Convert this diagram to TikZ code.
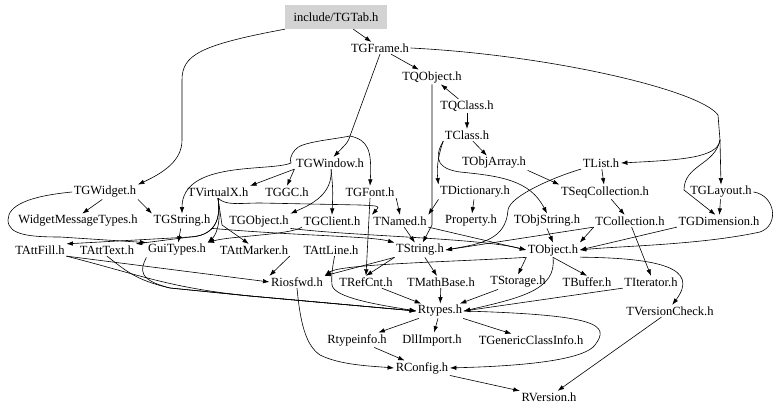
\documentclass[tikz,border=0pt]{standalone}
\usepackage{fontspec}
\setmainfont{Liberation Serif}
\usetikzlibrary{arrows.meta}
\begin{document}
\begin{tikzpicture}[x=1pt,y=-1pt,
  lbl/.style={font=\fontsize{12.5}{14}\selectfont, inner sep=1.5pt},
  arr/.style={-{Latex[length=6.5pt,width=4.5pt]}, line width=0.6pt, black}]
\useasboundingbox (0,0) rectangle (779,414);
% nodes
\node[lbl, fill={rgb,255:red,211;green,211;blue,211}, minimum width=102pt, minimum height=24pt] (tgtab) at (336,17) {include/TGTab.h};
\node[lbl] (tgframe) at (380,48) {TGFrame.h};
\node[lbl] (tqobject) at (432,77) {TQObject.h};
\node[lbl] (tqclass) at (467,106) {TQClass.h};
\node[lbl] (tclass) at (467,135) {TClass.h};
\node[lbl] (tgwindow) at (330,163) {TGWindow.h};
\node[lbl] (tobjarray) at (494,163) {TObjArray.h};
\node[lbl] (tlist) at (601,163) {TList.h};
\node[lbl] (tgwidget) at (105,192) {TGWidget.h};
\node[lbl] (tvirtualx) at (218,192) {TVirtualX.h};
\node[lbl] (tggc) at (287,192) {TGGC.h};
\node[lbl] (tgfont) at (370,192) {TGFont.h};
\node[lbl] (tdictionary) at (475,192) {TDictionary.h};
\node[lbl] (tseqcollection) at (605,192) {TSeqCollection.h};
\node[lbl] (tglayout) at (721,192) {TGLayout.h};
\node[lbl] (widgetmessagetypes) at (78,221) {WidgetMessageTypes.h};
\node[lbl] (tgstring) at (182,221) {TGString.h};
\node[lbl] (tgobject) at (259,221) {TGObject.h};
\node[lbl] (tgclient) at (332,221) {TGClient.h};
\node[lbl] (tnamed) at (400,221) {TNamed.h};
\node[lbl] (property) at (471,221) {Property.h};
\node[lbl] (tobjstring) at (547,221) {TObjString.h};
\node[lbl] (tcollection) at (630,221) {TCollection.h};
\node[lbl] (tgdimension) at (719,221) {TGDimension.h};
\node[lbl] (tattfill) at (40,250) {TAttFill.h};
\node[lbl] (tatttext) at (107,250) {TAttText.h};
\node[lbl] (guitypes) at (177,250) {GuiTypes.h};
\node[lbl] (tattmarker) at (254,250) {TAttMarker.h};
\node[lbl] (tattline) at (331,250) {TAttLine.h};
\node[lbl] (tstring) at (420,250) {TString.h};
\node[lbl] (tobject) at (553,250) {TObject.h};
\node[lbl] (riosfwd) at (297,282) {Riosfwd.h};
\node[lbl] (trefcnt) at (366,282) {TRefCnt.h};
\node[lbl] (tmathbase) at (441,282) {TMathBase.h};
\node[lbl] (tstorage) at (518,282) {TStorage.h};
\node[lbl] (tbuffer) at (587,282) {TBuffer.h};
\node[lbl] (titerator) at (651,282) {TIterator.h};
\node[lbl] (rtypes) at (440,311) {Rtypes.h};
\node[lbl] (tversioncheck) at (670,311) {TVersionCheck.h};
\node[lbl] (rtypeinfo) at (357,340) {Rtypeinfo.h};
\node[lbl] (dllimport) at (432,340) {DllImport.h};
\node[lbl] (tgenericclassinfo) at (531,340) {TGenericClassInfo.h};
\node[lbl] (rconfig) at (422,368) {RConfig.h};
\node[lbl] (rversion) at (549,397) {RVersion.h};
\coordinate (fsplit) at (350,136);
\coordinate (rsplit) at (720,140);
% edges
\draw[arr] (tgtab) -- (tgframe);
\draw[arr] (tgtab.south west) .. controls (200,45) and (182,55) .. (182,80) -- (182,140) .. controls (182,160) and (165,172) .. (tgwidget.north east);
\draw[arr] (tgframe) -- (tqobject);
\draw[line width=0.6pt] (tgframe.south) -- (fsplit);
\draw[arr] (fsplit) .. controls (348,142) .. (tgwindow.60);
\draw[arr] (fsplit) .. controls (368,140) and (372,150) .. (tgfont.north);
\draw[arr] (fsplit) .. controls (330,140) and (300,142) .. (295,150) .. controls (290,156) and (290,160) .. (291,163) .. controls (270,172) and (182,160) .. (tgstring.north);
\draw[arr] (tgframe.east) .. controls (550,55) and (700,90) .. (718,115) -- (rsplit) .. controls (718,158) and (680,160) .. (tlist.east);
\draw[arr] (rsplit) -- (tglayout.north);
\draw[arr] (rsplit) .. controls (715,165) and (684,165) .. (684,190) -- (tgdimension.120);
\draw[arr] (tqclass) -- (tqobject);
\draw[arr] (tqclass) -- (tclass);
\draw[arr] (tqobject.south) -- (432,225) -- (tstring.70);
\draw[arr] (tclass) -- (tobjarray);
\draw[arr] (tclass.south west) .. controls (440,150) and (436,165) .. (tdictionary.north west);
\draw[arr] (tclass.south west) .. controls (438,150) and (430,168) .. (460,172) .. controls (500,176) and (530,180) .. (tobjstring.north);
\draw[arr] (tdictionary.south west) -- (tnamed.north east);
\draw[arr] (tdictionary) -- (property);
\draw[arr] (tobjarray.south east) -- (tseqcollection.north west);
\draw[arr] (tlist) -- (tseqcollection);
\draw[arr] (tlist.south west) .. controls (560,175) and (510,195) .. (508,210) .. controls (506,240) and (480,244) .. (tstring.east);
\draw[arr] (tseqcollection) -- (tcollection);
\draw[arr] (tcollection.south west) -- (tobject.north east);
\draw[arr] (tcollection.-75) -- (titerator.north);
\draw[arr] (tcollection.south west) -- (tstring.east);
\draw[arr] (tglayout) -- (tgdimension);
\draw[arr] (tglayout.east) .. controls (775,195) and (780,225) .. (760,232) .. controls (700,245) and (620,246) .. (tobject.east);
\draw[arr] (tgdimension.south west) -- (tobject.east);
\draw[arr] (tobjstring.south) -- (tobject.north);
\draw[arr] (tnamed) -- (tstring);
\draw[arr] (tnamed.south east) -- (tobject.west);
\draw[arr] (tgwindow.south west) -- (tggc.north);
\draw[arr] (tgwindow.south west) -- (tvirtualx.north east);
\draw[arr] (tgwindow.-80) .. controls (333,195) and (310,205) .. (tgobject.north east);
\draw[arr] (tgwindow.-80) .. controls (333,190) .. (tgclient.north);
\draw[arr] (tgfont.south east) -- (tnamed.north);
\draw[arr] (tgfont.south) -- (trefcnt.north);
\draw[arr] (tvirtualx.south) .. controls (226,206) and (240,203) .. (260,203) -- (360,205) .. controls (380,206) .. (tnamed.north west);
\draw[arr] (tvirtualx.south) -- (222,225) -- (tattmarker.130);
\draw[arr] (tvirtualx.south) .. controls (222,225) and (210,236) .. (190,237) -- (tattfill.north east);
\draw[arr] (tvirtualx.south) .. controls (222,225) and (210,236) .. (190,237) -- (tatttext.north east);
\draw[arr] (tvirtualx.south) .. controls (222,225) and (215,236) .. (guitypes.north east);
\draw[arr] (tgwidget.-110) -- (widgetmessagetypes.60);
\draw[arr] (tgwidget.south east) -- (tgstring.north west);
\draw[arr] (tgwidget.west) .. controls (30,196) and (8,205) .. (8,220) .. controls (8,235) and (30,237) .. (60,237) -- (guitypes.north west);
\draw[arr] (tgstring) -- (guitypes);
\draw[arr] (tgstring.south east) .. controls (300,236) and (370,236) .. (tstring.north west);
\draw[arr] (tgobject.south east) .. controls (350,236) and (480,238) .. (tobject.west);
\draw[arr] (tgclient.south west) .. controls (290,235) and (230,236) .. (guitypes.north east);
\draw[arr] (tattfill.south east) .. controls (140,275) and (170,288) .. (250,296) -- (rtypes.west);
\draw[arr] (tattfill.south east) -- (riosfwd.west);
\draw[arr] (tatttext.south) .. controls (125,270) and (135,280) .. (170,288) -- (250,296) -- (rtypes.west);
\draw[arr] (guitypes.south west) .. controls (140,270) and (138,280) .. (170,288) -- (250,296) -- (rtypes.west);
\draw[arr] (tattmarker.south east) -- (riosfwd.north west);
\draw[arr] (tattline.-60) .. controls (333,265) and (331,275) .. (332,285) .. controls (334,298) and (380,305) .. (rtypes.west);
\draw[arr] (tstring.south west) -- (riosfwd.north east);
\draw[arr] (tstring.south west) -- (trefcnt.north);
\draw[arr] (tstring) -- (tmathbase);
\draw[arr] (tobject.south west) -- (tstorage.north);
\draw[arr] (tobject.south) -- (tbuffer.north);
\draw[arr] (tobject.-15) .. controls (660,258) and (700,268) .. (tversioncheck.70);
\draw[arr] (tobject.south) .. controls (557,290) and (520,298) .. (rtypes.east);
\draw[arr] (tobject.south west) .. controls (450,262) and (340,264) .. (riosfwd.north east);
\draw[arr] (trefcnt) -- (rtypes);
\draw[arr] (tmathbase) -- (rtypes);
\draw[arr] (tstorage) -- (rtypes);
\draw[arr] (titerator.south west) -- (rtypes.east);
\draw[arr] (rtypes) -- (rtypeinfo);
\draw[arr] (rtypes) -- (dllimport);
\draw[arr] (rtypes) -- (tgenericclassinfo);
\draw[arr] (rtypes.east) .. controls (600,315) and (610,325) .. (595,345) .. controls (580,365) and (480,367) .. (rconfig.east);
\draw[arr] (rtypeinfo) -- (rconfig);
\draw[arr] (riosfwd.south) .. controls (300,320) and (305,345) .. (320,355) .. controls (340,365) and (370,366) .. (rconfig.west);
\draw[arr] (rconfig.south east) -- (rversion.north west);
\draw[arr] (tversioncheck) -- (rversion);
\end{tikzpicture}
\end{document}
